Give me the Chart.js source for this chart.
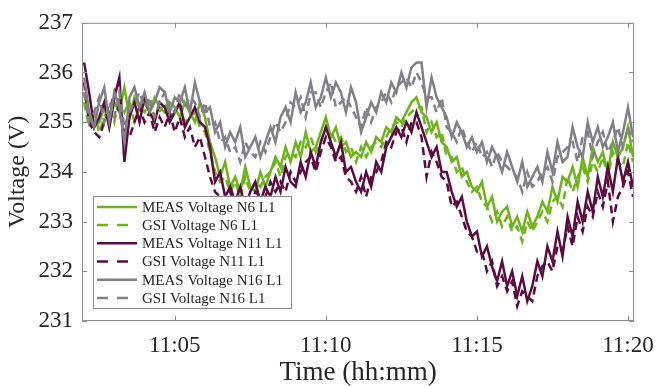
<!DOCTYPE html>
<html>
<head>
<meta charset="utf-8">
<title>Voltage</title>
<script src="https://cdn.jsdelivr.net/npm/chart.js@4.4.1/dist/chart.umd.min.js"></script>
<style>
    html, body { margin: 0; padding: 0; background: #fff; }
    #wrap { width: 665px; height: 386px; }
</style>
</head>
<body>
<div id="wrap"><canvas id="voltage-chart" width="665" height="386"></canvas></div>
<script>
// Samples every 10 s from 11:02:00 (minutes after 11:00 on the x axis)
const startMinute = 2;
const stepSeconds = 10;

const xTickValues = [5, 10, 15, 20];
const xTickLabels = ['11:05', '11:10', '11:15', '11:20'];
const yTickValues = [231, 232, 233, 234, 235, 236, 237];

const seriesLabels = [
    'MEAS Voltage N6 L1', 'GSI Voltage N6 L1',
    'MEAS Voltage N11 L1', 'GSI Voltage N11 L1',
    'MEAS Voltage N16 L1', 'GSI Voltage N16 L1'
];

// one row per minute, 11:02 .. 11:19, then 11:20:00 and 11:20:10
const measN6 = [
    235.6, 235.1, 234.9, 235.0, 235.3, 234.9,
    235.4, 235.2, 235.7, 235.1, 235.5, 235.3,
    235.4, 235.2, 235.5, 235.3, 235.2, 235.4,
    235.3, 235.1, 235.4, 235.2, 235.0, 235.4,
    235.1, 234.6, 234.3, 233.9, 234.2, 233.7,
    233.9, 233.6, 234.1, 233.7, 233.6, 234.0,
    233.7, 234.0, 234.3, 234.1, 234.5, 234.2,
    234.6, 234.3, 234.8, 234.4, 234.5, 234.8,
    235.1, 234.7, 234.9, 234.5, 234.6, 234.3,
    234.4, 234.3, 234.6, 234.4, 234.7, 234.6,
    234.9, 234.8, 235.1, 235.0, 235.2, 235.4,
    235.5, 235.2, 235.1, 234.8, 235.0, 234.6,
    234.5, 234.2, 234.3, 233.9, 234.0, 233.7,
    233.6, 233.8, 233.3, 233.5, 233.0, 233.2,
    233.3, 232.9, 233.1, 232.8, 233.2, 232.9,
    233.1, 233.4, 233.2, 233.7, 233.4, 233.9,
    233.8, 234.1, 233.7, 234.3, 233.9, 234.5,
    234.2, 234.4, 234.0, 234.6, 234.3, 234.5,
    234.9, 234.3
];

const gsiN6 = [
    235.4, 234.9, 235.2, 234.8, 235.1, 235.3,
    235.0, 235.5, 235.2, 235.4, 235.0, 235.3,
    235.2, 235.4, 235.1, 235.2, 235.4, 235.1,
    235.2, 235.3, 235.0, 235.1, 235.2, 234.9,
    234.8, 234.4, 234.0, 233.8, 233.9, 233.6,
    233.8, 233.5, 233.9, 233.6, 233.8, 233.7,
    233.9, 234.0, 234.2, 233.9, 234.3, 234.4,
    234.3, 234.6, 234.5, 234.7, 234.4, 234.6,
    234.9, 234.8, 234.6, 234.7, 234.4, 234.5,
    234.2, 234.5, 234.3, 234.5, 234.6, 234.5,
    234.7, 234.9, 235.0, 234.9, 235.1, 235.2,
    235.3, 235.3, 234.8, 235.0, 234.7, 234.8,
    234.3, 234.3, 234.0, 234.1, 233.8, 233.6,
    233.7, 233.4, 233.3, 233.0, 233.2, 232.9,
    233.1, 232.8, 232.9, 232.6, 233.0, 232.8,
    233.0, 233.2, 233.0, 233.4, 233.5, 233.3,
    233.9, 233.6, 233.9, 234.1, 233.8, 234.2,
    234.0, 234.3, 233.9, 234.4, 234.2, 234.1,
    234.6, 234.2
];

const measN11 = [
    236.2, 235.6, 234.9, 235.1, 235.4, 234.9,
    235.5, 235.9, 234.2, 235.1, 235.4, 235.0,
    235.5, 235.2, 235.0, 235.4, 235.3, 235.0,
    235.2, 235.4, 234.9, 235.1, 235.3, 235.0,
    234.9, 234.5, 233.8, 234.0, 233.5, 233.7,
    233.4, 233.7, 233.3, 233.6, 233.8, 233.4,
    233.7, 233.5, 233.9, 233.6, 234.1, 233.8,
    233.7, 234.2, 233.9, 234.4, 234.1, 234.6,
    234.9, 234.6, 234.3, 234.6, 234.0, 234.1,
    233.8, 233.6, 234.0, 233.7, 234.2, 234.0,
    234.5, 234.7, 234.9, 234.7, 235.0, 234.8,
    235.2, 234.9, 234.6, 234.3, 234.5, 234.0,
    234.0, 233.6, 233.3, 233.5, 233.0, 232.7,
    232.8, 232.3, 232.5, 232.1, 231.8, 232.2,
    231.7, 232.0, 231.5, 231.9, 231.4, 231.7,
    232.2, 231.9, 232.5, 232.2, 232.8, 232.3,
    233.1, 232.7, 233.4, 233.0, 233.6, 233.2,
    233.9, 233.5, 234.1, 233.6, 234.3, 233.8,
    234.2, 233.7
];

const gsiN11 = [
    235.8, 235.0, 234.8, 234.7, 235.0, 235.2,
    235.6, 235.2, 234.8, 234.7, 235.0, 235.3,
    235.0, 235.2, 234.8, 235.1, 234.9, 235.2,
    234.8, 235.1, 234.7, 234.9, 234.5, 234.7,
    234.3, 233.9, 233.6, 233.5, 233.4, 233.6,
    233.3, 233.5, 233.4, 233.2, 233.6, 233.5,
    233.5, 233.8, 233.6, 233.8, 233.6, 234.0,
    233.8, 234.0, 234.2, 234.3, 234.0, 234.4,
    234.7, 234.5, 234.2, 234.3, 233.9, 233.8,
    233.6, 233.9, 233.5, 233.9, 234.0, 234.2,
    234.6, 234.5, 234.8, 234.9, 234.6, 235.0,
    235.0, 234.7, 233.9, 234.4, 234.2, 233.9,
    233.8, 233.3, 233.4, 233.1, 232.8, 232.7,
    232.4, 232.4, 232.0, 232.2, 231.7, 231.9,
    231.6, 231.8, 231.3, 231.6, 231.5, 231.4,
    231.9, 232.1, 232.2, 232.0, 232.5, 232.4,
    232.9, 232.5, 233.1, 232.8, 233.3, 233.1,
    233.6, 233.3, 233.8, 233.0, 233.5, 233.7,
    234.0, 233.5
];

const measN16 = [
    235.9, 235.2, 234.9, 235.4, 235.7, 235.0,
    235.6, 235.3, 234.6, 235.5, 235.7, 235.3,
    235.6, 235.2, 235.4, 235.7, 235.6, 235.2,
    235.5, 235.4, 235.7, 235.2, 235.8, 235.4,
    235.2, 235.3, 234.8, 235.0, 234.5, 234.8,
    234.6, 234.9, 234.3, 234.5, 234.7, 234.3,
    234.6, 234.9, 234.6, 235.1, 235.3, 235.0,
    235.6, 235.2, 235.4, 235.8, 235.3, 235.5,
    235.9, 235.5, 235.8, 235.6, 235.2, 235.7,
    235.4, 234.8, 235.1, 235.4, 235.2, 235.6,
    235.4, 235.8, 235.6, 236.0, 235.7, 236.1,
    236.2, 236.2, 235.3, 235.9, 235.5, 235.3,
    235.1, 234.7, 235.0, 234.8, 234.5, 234.7,
    234.4, 234.6, 234.2, 234.5, 234.3, 234.0,
    234.4, 234.1, 233.8, 234.2, 233.7, 233.9,
    234.1, 233.8, 234.4, 234.0, 234.6, 234.2,
    234.3, 234.9, 234.5, 234.3, 235.0, 234.6,
    234.9, 234.5, 234.7, 235.0, 234.4, 234.8,
    235.3, 234.7
];

const gsiN16 = [
    235.6, 235.0, 235.2, 235.5, 235.0, 235.4,
    235.1, 235.6, 234.9, 235.2, 235.4, 235.6,
    235.3, 235.5, 235.1, 235.4, 235.6, 235.3,
    235.2, 235.6, 235.3, 235.5, 235.4, 235.1,
    235.4, 234.9, 235.0, 234.6, 234.7, 234.4,
    234.5, 234.2, 234.6, 234.4, 234.3, 234.6,
    234.4, 234.7, 235.0, 234.8, 235.0, 235.4,
    235.3, 235.5, 235.1, 235.6, 235.6, 235.3,
    235.6, 235.8, 235.3, 235.4, 235.5, 235.3,
    235.1, 234.9, 235.3, 235.0, 235.3, 235.4,
    235.6, 235.4, 235.7, 235.8, 235.9, 235.7,
    236.0, 235.8, 235.5, 235.5, 235.2, 235.5,
    234.9, 234.8, 234.6, 234.9, 234.6, 234.4,
    234.6, 234.3, 234.4, 234.1, 234.4, 234.2,
    234.1, 234.0, 233.9, 233.6, 234.0, 233.7,
    233.8, 234.0, 234.1, 233.8, 234.3, 234.4,
    234.5, 234.6, 234.2, 234.7, 234.8, 234.3,
    234.6, 234.8, 234.4, 234.6, 234.9, 234.5,
    234.9, 234.6
];

const GREEN = 'rgb(108, 180, 24)';
const PURPLE = 'rgb(92, 10, 64)';
const GREY = 'rgb(128, 128, 134)';
const DASH = [8, 5];
const SERIF = "'Liberation Serif', 'DejaVu Serif', serif";
const TEXT_COLOR = '#262626';
const TICK_LEN = 5;

function toPoints(values) {
    return values.map((v, i) => ({ x: startMinute + i * stepSeconds / 60, y: v }));
}

function makeDataset(label, values, color, dashed, order) {
    return {
        label: label,
        data: toPoints(values),
        borderColor: color,
        backgroundColor: color,
        borderWidth: 2.5,
        borderDash: dashed ? DASH : [],
        pointRadius: 0,
        tension: 0,
        order: order
    };
}

// Box around the plot with inward ticks on all four sides
const frameTicks = {
    id: 'frameTicks',
    afterDatasetsDraw(chart) {
        const { ctx, chartArea: a, scales: { x, y } } = chart;
        ctx.save();
        ctx.strokeStyle = '#8c8c8c';
        ctx.lineWidth = 1;
        ctx.strokeRect(a.left + 0.5, a.top + 0.5, a.right - a.left - 1, a.bottom - a.top - 1);
        ctx.beginPath();
        x.ticks.forEach(t => {
            const px = Math.round(x.getPixelForValue(t.value)) + 0.5;
            ctx.moveTo(px, a.bottom); ctx.lineTo(px, a.bottom - TICK_LEN);
            ctx.moveTo(px, a.top); ctx.lineTo(px, a.top + TICK_LEN);
        });
        y.ticks.forEach(t => {
            const py = Math.round(y.getPixelForValue(t.value)) + 0.5;
            ctx.moveTo(a.left, py); ctx.lineTo(a.left + TICK_LEN, py);
            ctx.moveTo(a.right, py); ctx.lineTo(a.right - TICK_LEN, py);
        });
        ctx.stroke();
        ctx.restore();
    }
};

// Legend box in the lower left corner of the plot
const insetLegend = {
    id: 'insetLegend',
    afterDraw(chart) {
        const { ctx, chartArea: a } = chart;
        const rowH = 18.2;
        const sampleW = 40;
        const datasets = chart.data.datasets;
        ctx.save();
        ctx.font = '15px ' + SERIF;
        const textW = Math.max(...datasets.map(d => ctx.measureText(d.label).width));
        const boxW = 4 + sampleW + 5 + textW + 8;
        const boxH = rowH * datasets.length + 3;
        const left = a.left + 11;
        const top = a.bottom - 13 - boxH;

        ctx.fillStyle = '#fff';
        ctx.fillRect(left, top, boxW, boxH);
        ctx.strokeStyle = '#8c8c8c';
        ctx.lineWidth = 1;
        ctx.strokeRect(Math.round(left) + 0.5, Math.round(top) + 0.5, Math.round(boxW), Math.round(boxH));

        datasets.forEach((d, i) => {
            const cy = top + 2 + rowH * (i + 0.5);
            ctx.beginPath();
            ctx.strokeStyle = d.borderColor;
            ctx.lineWidth = 2.5;
            ctx.setLineDash(d.borderDash.length ? [11, 9] : []);
            ctx.moveTo(left + 4, cy);
            ctx.lineTo(left + 4 + sampleW, cy);
            ctx.stroke();
            ctx.setLineDash([]);
            ctx.fillStyle = TEXT_COLOR;
            ctx.textBaseline = 'middle';
            ctx.textAlign = 'left';
            ctx.fillText(d.label, left + 4 + sampleW + 5, cy + 1);
        });
        ctx.restore();
    }
};

const ctx = document.getElementById('voltage-chart').getContext('2d');

new Chart(ctx, {
    type: 'line',
    data: {
        datasets: [
            makeDataset(seriesLabels[0], measN6, GREEN, false, 5),
            makeDataset(seriesLabels[1], gsiN6, GREEN, true, 4),
            makeDataset(seriesLabels[2], measN11, PURPLE, false, 3),
            makeDataset(seriesLabels[3], gsiN11, PURPLE, true, 2),
            makeDataset(seriesLabels[4], measN16, GREY, false, 1),
            makeDataset(seriesLabels[5], gsiN16, GREY, true, 0)
        ]
    },
    options: {
        responsive: false,
        animation: false,
        layout: { padding: { top: 22, right: 22, left: 0, bottom: 0 } },
        plugins: {
            legend: { display: false },
            tooltip: { enabled: false }
        },
        scales: {
            x: {
                type: 'linear',
                min: 1.93,
                max: 20.2,
                afterBuildTicks: scale => {
                    scale.ticks = xTickValues.map(v => ({ value: v }));
                },
                afterFit: scale => { scale.height = 65; },
                grid: { display: false, drawTicks: false },
                border: { display: false },
                ticks: {
                    autoSkip: false,
                    maxRotation: 0,
                    padding: 11,
                    color: TEXT_COLOR,
                    font: { family: SERIF, size: 23 },
                    callback: (value, index) => xTickLabels[index]
                },
                title: {
                    display: true,
                    text: 'Time (hh:mm)',
                    color: TEXT_COLOR,
                    font: { family: SERIF, size: 27, lineHeight: 1.0 },
                    padding: { top: 0, bottom: 0 }
                }
            },
            y: {
                min: 231,
                max: 237,
                afterBuildTicks: scale => {
                    scale.ticks = yTickValues.map(v => ({ value: v }));
                },
                afterFit: scale => { scale.width = 82; },
                grid: { display: false, drawTicks: false },
                border: { display: false },
                ticks: {
                    padding: 9,
                    color: TEXT_COLOR,
                    font: { family: SERIF, size: 23 }
                },
                title: {
                    display: true,
                    text: 'Voltage (V)',
                    color: TEXT_COLOR,
                    font: { family: SERIF, size: 24 },
                    padding: { top: 3, bottom: 0 }
                }
            }
        }
    },
    plugins: [frameTicks, insetLegend]
});
</script>
</body>
</html>
